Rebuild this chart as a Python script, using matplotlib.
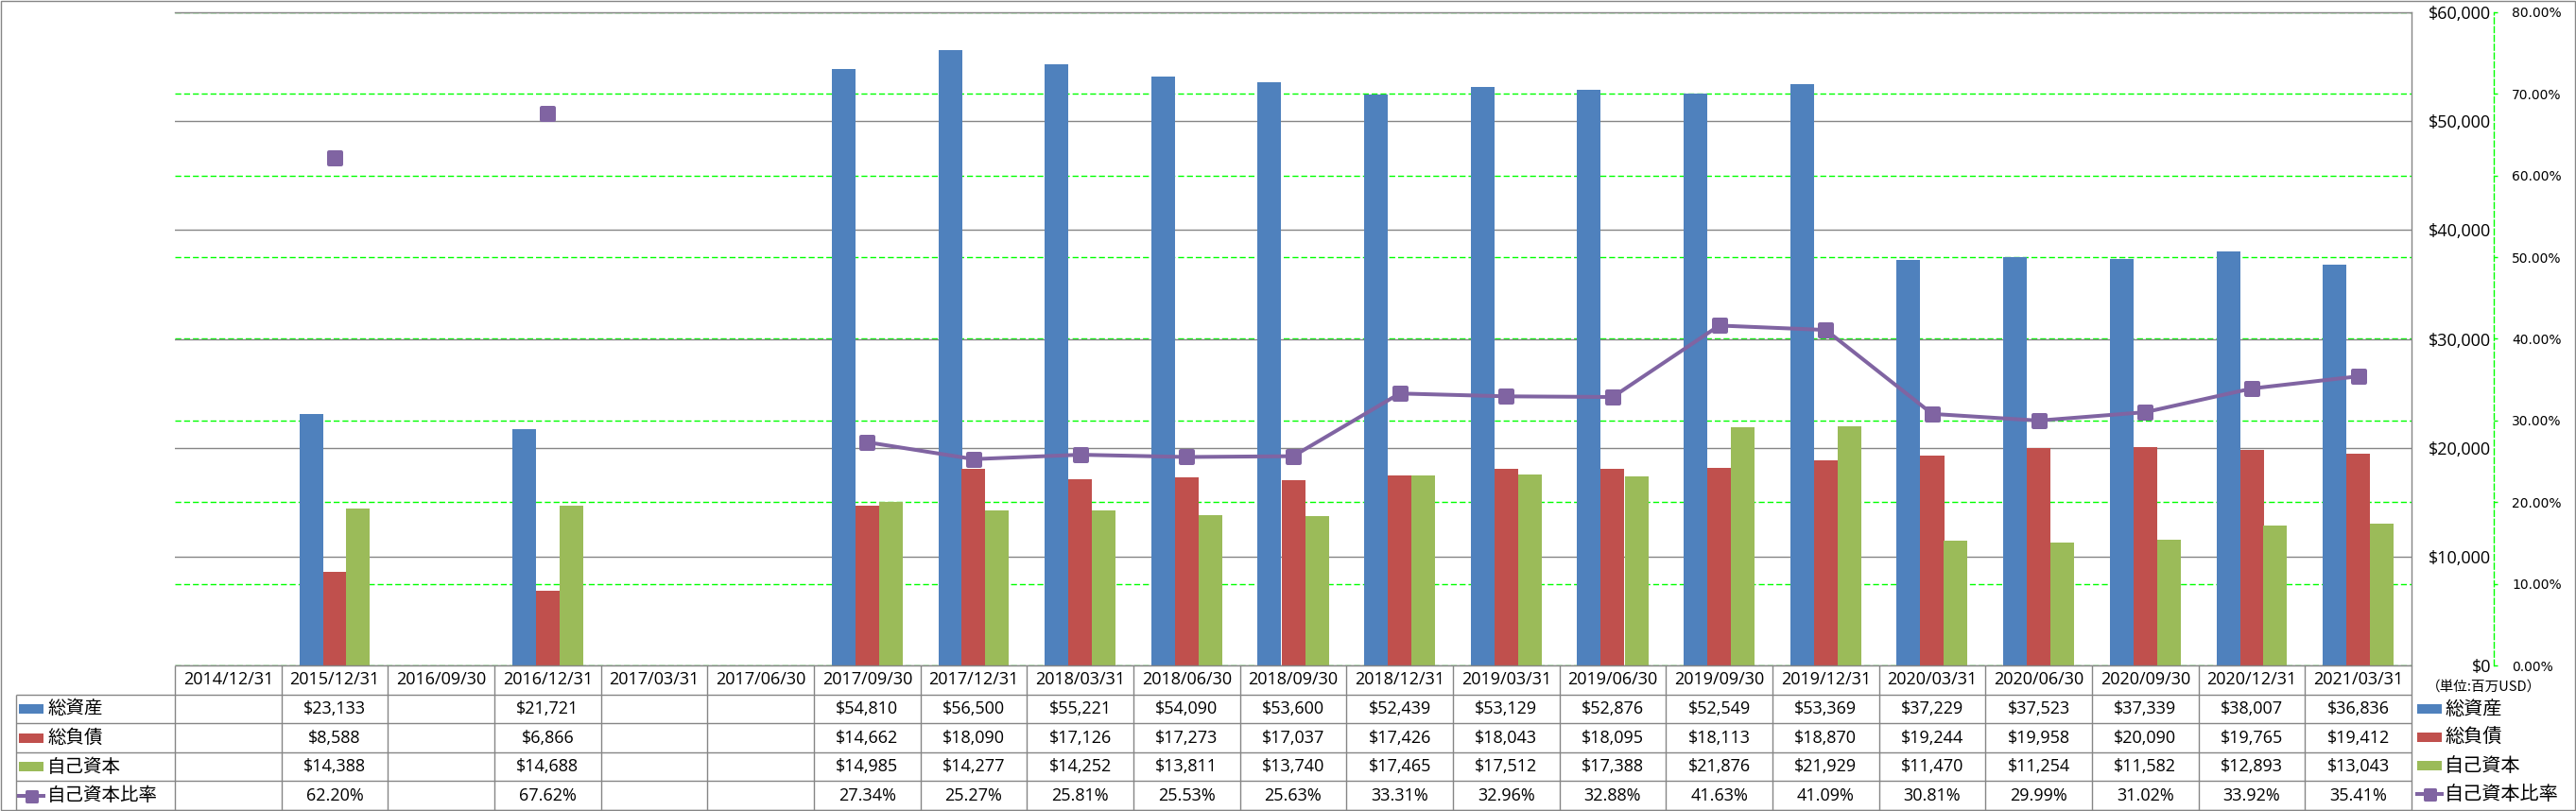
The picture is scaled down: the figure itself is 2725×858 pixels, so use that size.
import numpy as np
import matplotlib
matplotlib.use('Agg')
import matplotlib.pyplot as plt
from matplotlib.markers import MarkerStyle
from matplotlib.patches import Rectangle
from matplotlib.lines import Line2D

nan = np.nan

# ---------------- data ----------------
dates = ['2014/12/31', '2015/12/31', '2016/09/30', '2016/12/31', '2017/03/31',
         '2017/06/30', '2017/09/30', '2017/12/31', '2018/03/31', '2018/06/30',
         '2018/09/30', '2018/12/31', '2019/03/31', '2019/06/30', '2019/09/30',
         '2019/12/31', '2020/03/31', '2020/06/30', '2020/09/30', '2020/12/31',
         '2021/03/31']
total_assets = [nan, 23133, nan, 21721, nan, nan, 54810, 56500, 55221, 54090,
                53600, 52439, 53129, 52876, 52549, 53369, 37229, 37523, 37339,
                38007, 36836]
total_liabilities = [nan, 8588, nan, 6866, nan, nan, 14662, 18090, 17126, 17273,
                     17037, 17426, 18043, 18095, 18113, 18870, 19244, 19958,
                     20090, 19765, 19412]
equity = [nan, 14388, nan, 14688, nan, nan, 14985, 14277, 14252, 13811, 13740,
          17465, 17512, 17388, 21876, 21929, 11470, 11254, 11582, 12893, 13043]
equity_ratio = [nan, 62.20, nan, 67.62, nan, nan, 27.34, 25.27, 25.81, 25.53,
                25.63, 33.31, 32.96, 32.88, 41.63, 41.09, 30.81, 29.99, 31.02,
                33.92, 35.41]
series_names = ['総資産', '総負債', '自己資本', '自己資本比率']
usd_ticks = [0, 10000, 20000, 30000, 40000, 50000, 60000]
pct_ticks = [0, 10, 20, 30, 40, 50, 60, 70, 80]
unit_label = '（単位:百万USD）'

# ---------------- style ----------------
W, H = 2725, 858
GRAY = '#868686'
GREEN = '#00FF00'
BAR_COLORS = ['#4F81BD', '#C0504D', '#9BBB59']
PURPLE = '#8064A2'
LATIN = ['Open Sans', 'Noto Sans CJK JP']
CJK = ['Noto Sans CJK JP', 'DejaVu Sans']
FS = 13
DASH = (0, (4.5, 2.2))


def pt(v):
    return v * 72 / 100


fig = plt.figure(figsize=(W / 100, H / 100), dpi=100)
fig.patch.set_facecolor('white')

L, R, T, B = 185, 2551, 13, 704
AX2 = 2638
rect = [L / W, 1 - B / H, (R - L) / W, (B - T) / H]
n = len(dates)
x = np.arange(n)
colw = (R - L) / n

# ---- percent axis (behind) ----
axp = fig.add_axes(rect, zorder=1)
axp.set_xlim(-0.5, n - 0.5)
axp.set_ylim(0, 80)
axp.set_xticks([])
axp.yaxis.tick_right()
axp.set_yticks(pct_ticks)
axp.set_yticklabels([f'{v:.2f}%' for v in pct_ticks], fontfamily=LATIN, fontsize=FS)
axp.tick_params(axis='y', direction='out', length=pt(4), width=1, color=GREEN,
                pad=pt(15))
for s in ['left', 'top', 'bottom']:
    axp.spines[s].set_visible(False)
axp.spines['right'].set_position(('outward', pt(AX2 - R)))
axp.spines['right'].set_color(GREEN)
axp.spines['right'].set_linestyle(DASH)
axp.spines['right'].set_linewidth(1)
axp.grid(axis='y', color=GREEN, linestyle=DASH, linewidth=1)
axp.grid(axis='x', visible=False)

# ---- USD axis with bars ----
axb = fig.add_axes(rect, zorder=2, sharex=axp)
axb.patch.set_visible(False)
axb.set_ylim(0, 60000)
axb.yaxis.tick_right()
axb.set_yticks(usd_ticks)
axb.set_yticklabels([f'${v:,}' for v in usd_ticks], fontfamily=LATIN, fontsize=FS)
axb.tick_params(axis='y', length=0, pad=pt(2635 - R))
for t in axb.yaxis.get_major_ticks():
    t.label2.set_horizontalalignment('right')
axb.tick_params(axis='x', length=0, labelbottom=False)
axb.set_axisbelow(True)
axb.grid(axis='y', color=GRAY, linewidth=1)
for s in ['left', 'bottom']:
    axb.spines[s].set_visible(False)
for s in ['top', 'right']:
    axb.spines[s].set_color(GRAY)
    axb.spines[s].set_linewidth(1)

bw = 25 / colw
for k, (vals, c) in enumerate(zip([total_assets, total_liabilities, equity], BAR_COLORS)):
    axb.bar(x + (k - 1) * bw, np.nan_to_num(vals, nan=0.0), bw, color=c, linewidth=0)

# ---- ratio line (top) ----
axl = fig.add_axes(rect, zorder=3, sharex=axp, sharey=axp)
axl.axis('off')
mk = MarkerStyle('s', joinstyle='round')
axl.plot(x, equity_ratio, color=PURPLE, lw=pt(4), marker=mk, ms=pt(13),
         mfc=PURPLE, mec=PURPLE, mew=pt(4), clip_on=False)

# ---- data table ----
TL, TB = 17, 857
xl = -0.5 - (L - TL) / colw
axt = fig.add_axes([TL / W, 1 - TB / H, (R - TL) / W, (TB - B) / H], zorder=2)
axt.set_xlim(xl, n - 0.5)
axt.set_ylim(5, 0)
axt.axis('off')
axt.hlines(0, -0.5, n - 0.5, color=GRAY, lw=1, clip_on=False)
axt.hlines([1, 2, 3, 4, 5], xl, n - 0.5, color=GRAY, lw=1, clip_on=False)
axt.vlines([xl], 1, 5, color=GRAY, lw=1, clip_on=False)
axt.vlines(np.arange(n + 1) - 0.5, 0, 5, color=GRAY, lw=1, clip_on=False)

for i, d in enumerate(dates):
    axt.text(i, 0.5, d, ha='center', va='center', fontsize=FS, family=LATIN)
for r, vals in enumerate([total_assets, total_liabilities, equity]):
    for i, v in enumerate(vals):
        if not np.isnan(v):
            axt.text(i, r + 1.5, f'${v:,.0f}', ha='center', va='center',
                     fontsize=FS, family=LATIN)
for i, v in enumerate(equity_ratio):
    if not np.isnan(v):
        axt.text(i, 4.5, f'{v:.2f}%', ha='center', va='center', fontsize=FS,
                 family=LATIN)

rowh = (TB - B) / 5
kx0 = xl + (20 - TL) / colw
kw = 26 / colw
kh = 10 / rowh
for r, c in enumerate(BAR_COLORS):
    axt.add_patch(Rectangle((kx0, r + 1.5 - kh / 2), kw, kh, color=c, lw=0))
axt.add_line(Line2D([kx0, kx0 + kw], [4.5, 4.5], color=PURPLE, lw=pt(4)))
axt.plot([kx0 + kw / 2], [4.5], marker=mk, ms=pt(11), mfc=PURPLE, mec=PURPLE,
         mew=pt(3), color=PURPLE)
for r, name in enumerate(series_names):
    axt.text(xl + (50 - TL) / colw, r + 1.5, name, ha='left', va='center',
             fontsize=14, family=CJK)

# ---- overlay in pixel coordinates: border + right legend ----
axo = fig.add_axes([0, 0, 1, 1], zorder=5)
axo.set_xlim(0, W)
axo.set_ylim(H, 0)
axo.axis('off')
axo.add_patch(Rectangle((1, 1), W - 2.5, TB - 1, fill=False, ec=GRAY, lw=1))
axo.text(2567, 727, unit_label, ha='left', va='center', fontsize=10.5, family=CJK)
for i, name in enumerate(series_names):
    yc = 750 + 30 * i
    if i < 3:
        axo.add_patch(Rectangle((2557, yc - 5), 26, 10, color=BAR_COLORS[i], lw=0))
    else:
        axo.add_line(Line2D([2557, 2583], [yc, yc], color=PURPLE, lw=pt(4)))
        axo.plot([2570], [yc], marker=mk, ms=pt(11), mfc=PURPLE, mec=PURPLE,
                 mew=pt(3))
    axo.text(2586, yc, name, ha='left', va='center', fontsize=14.5, family=CJK)

fig.savefig('out.png', dpi=100)
